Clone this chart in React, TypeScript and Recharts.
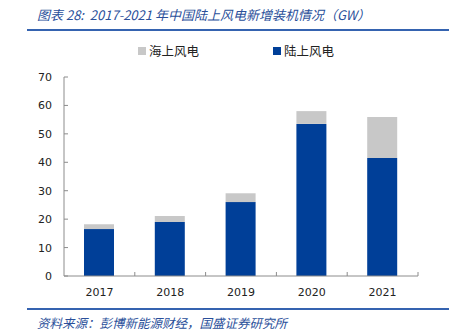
import { Bar, BarChart, XAxis, YAxis } from 'recharts';

const years = ['2017', '2018', '2019', '2020', '2021'];
const onshore = [16.5, 19.0, 26.0, 53.5, 41.5];
const offshore = [1.7, 2.1, 3.1, 4.5, 14.4];
const yTicks = [0, 10, 20, 30, 40, 50, 60, 70];

const titleText = '图表 28:  2017-2021 年中国陆上风电新增装机情况（GW）';
const sourceText = '资料来源：彭博新能源财经，国盛证券研究所';

const BLUE = '#003F98';
const GREY = '#C8C8C8';
const AXIS = '#8C8C8C';
const cjk = '"Noto Sans CJK SC", "DejaVu Sans", sans-serif';

const data = years.map((year, i) => ({
  year,
  onshore: onshore[i],
  offshore: offshore[i],
}));

// category labels + small upward tick marks on the band boundaries
const YearTick = (props: any) => {
  const { x, y, payload, width, visibleTicksCount } = props;
  let half = payload && typeof payload.offset === 'number' ? payload.offset : 0;
  if (!half && width && visibleTicksCount) half = width / visibleTicksCount / 2;
  const axisY = y - 12;
  return (
    <g>
      {half > 0 && (
        <line x1={x + half} x2={x + half} y1={axisY - 4} y2={axisY} stroke={AXIS} />
      )}
      <text
        x={x}
        y={y}
        dy="0.71em"
        textAnchor="middle"
        fontSize={11}
        fontFamily='"DejaVu Sans", sans-serif'
        fill="#222"
      >
        {payload.value}
      </text>
    </g>
  );
};

const ValueTick = (props: any) => {
  const { x, y, payload } = props;
  const axisX = x + 12;
  return (
    <g>
      <line x1={axisX} x2={axisX + 4} y1={y} y2={y} stroke={AXIS} />
      <text
        x={x}
        y={y}
        dy="0.36em"
        textAnchor="end"
        fontSize={11}
        fontFamily='"DejaVu Sans", sans-serif'
        fill="#222"
      >
        {payload.value}
      </text>
    </g>
  );
};

const LegendItem = ({ color, label, left }: { color: string; label: string; left: number }) => (
  <div style={{ position: 'absolute', left, top: 42, display: 'flex', alignItems: 'center' }}>
    <div style={{ width: 8, height: 8, background: color, marginRight: 3 }} />
    <span style={{ fontFamily: cjk, fontSize: 12.5, color: '#222', lineHeight: '18px' }}>{label}</span>
  </div>
);

export default function App() {
  return (
    <div style={{ position: 'absolute', left: 0, top: 0, width: 460, height: 331, background: '#fff' }}>
      <div
        style={{
          position: 'absolute',
          left: 37,
          top: 6,
          fontFamily: cjk,
          fontStyle: 'italic',
          fontSize: 13,
          lineHeight: '18px',
          color: '#2A4F9A',
          whiteSpace: 'pre',
        }}
      >
        {titleText}
      </div>
      <div style={{ position: 'absolute', left: 27, top: 29, width: 422, height: 2, background: '#3563B0' }} />
      <LegendItem color={GREY} label="海上风电" left={138} />
      <LegendItem color={BLUE} label="陆上风电" left={273} />
      <div style={{ position: 'absolute', left: 0, top: 0 }}>
        <BarChart
          width={460}
          height={331}
          data={data}
          margin={{ top: 77, right: 42, bottom: 25, left: 0 }}
          barSize={30}
        >
          <XAxis
            dataKey="year"
            height={30}
            stroke={AXIS}
            tickLine={false}
            tickSize={0}
            tickMargin={12}
            tick={<YearTick />}
          />
          <YAxis
            width={64}
            domain={[0, 70]}
            ticks={yTicks}
            interval={0}
            stroke={AXIS}
            tickLine={false}
            tickSize={0}
            tickMargin={12}
            tick={<ValueTick />}
          />
          <Bar dataKey="onshore" stackId="a" fill={BLUE} isAnimationActive={false} />
          <Bar dataKey="offshore" stackId="a" fill={GREY} isAnimationActive={false} />
        </BarChart>
      </div>
      <div style={{ position: 'absolute', left: 27, top: 308, width: 422, height: 2, background: '#3563B0' }} />
      <div
        style={{
          position: 'absolute',
          left: 37,
          top: 314,
          fontFamily: cjk,
          fontStyle: 'italic',
          fontSize: 12.5,
          lineHeight: '17px',
          color: '#2A4F9A',
          whiteSpace: 'pre',
        }}
      >
        {sourceText}
      </div>
    </div>
  );
}
